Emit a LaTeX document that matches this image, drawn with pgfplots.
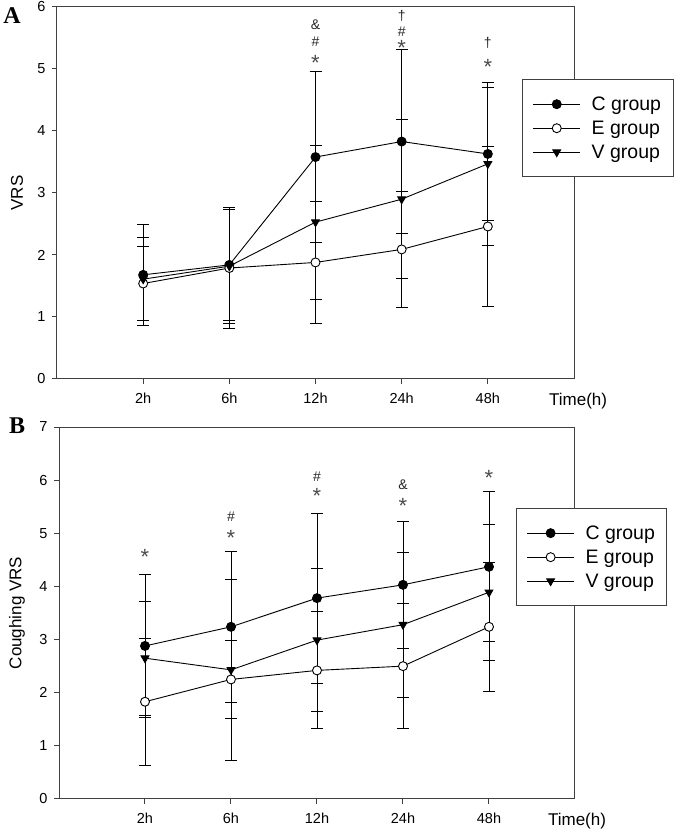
\documentclass[border=0pt]{standalone}
\usepackage{fontspec}
\setmainfont{Liberation Sans}
\newfontfamily\timesbold{Liberation Serif}
\usepackage{pgfplots}
\pgfplotsset{compat=1.18}

% big asterisk, lowered so its centre sits where the other signs sit
\newcommand\sigast{{\fontsize{22}{22}\selectfont\color{black!70}\raisebox{-7.6pt}{*}}}

\pgfplotsset{
  vrsaxis/.style={
    scale only axis, width=517pt, height=372pt,
    xmin=0, xmax=6, xtick={1,...,5}, xticklabels={2h,6h,12h,24h,48h},
    ymin=0,
    tick align=outside, major tick length=5pt,
    xtick pos=bottom, ytick pos=left,
    axis line style={black!75, line width=1pt},
    tick style={black!75, line width=1pt},
    ticklabel style={font=\fontsize{14.5}{16}\selectfont},
    yticklabel style={xshift=-3pt},
    xticklabel style={yshift=-5pt},
    /pgf/number format/assume math mode=true,
    label style={font=\fontsize{17}{19}\selectfont},
    xlabel={Time(h)},
    xlabel style={anchor=north, inner sep=0pt},
    ylabel style={anchor=center},
    clip=false,
    legend cell align=left,
    legend image code/.code={\draw[mark repeat=2, mark phase=2] plot coordinates {(0pt,0pt) (23.5pt,0pt) (47pt,0pt)};},
    legend style={anchor=north west, draw=black!75, line width=1pt, fill=white,
      font=\fontsize{19.5}{22}\selectfont, inner xsep=10pt, inner ysep=15pt,
      row sep=5pt, column sep=9pt, nodes={inner sep=2pt}},
  },
  grp/.style={black, line width=0.9pt, mark size=4.5pt,
    error bars/y dir=both, error bars/y explicit,
    error bars/error bar style={line width=0.9pt, black},
    error bars/error mark options={rotate=90, black, line width=0.9pt, mark size=6pt}},
  sig/.style={draw=none, mark=none, forget plot, nodes near coords,
    point meta=explicit symbolic,
    every node near coord/.append style={anchor=base, yshift=-5pt, inner sep=0pt,
      font=\fontsize{14}{16}\selectfont, text=black!85}},
}

\begin{document}
\begin{tikzpicture}
\useasboundingbox (0,0) rectangle (675pt,830pt);

% panel A
\begin{axis}[vrsaxis, at={(57pt,451pt)}, anchor=south west,
  ymax=6, ytick={0,...,6}, ylabel={VRS},
  xlabel style={at={(rel axis cs:1.008,-0.0376)}},
  ylabel style={at={(rel axis cs:-0.0774,0.5)}},
  legend style={at={(rel axis cs:0.9,0.806)}}]
\addplot[grp, mark=*, mark options={fill=black}] coordinates {
  (1,1.68) +- (0,0.81) (2,1.84) +- (0,0.89) (3,3.58) +- (0,1.38)
  (4,3.83) +- (0,1.49) (5,3.63) +- (0,1.07)};
\addlegendentry{C group}
\addplot[grp, mark=*, mark options={fill=white, draw=black}] coordinates {
  (1,1.54) +- (0,0.59) (2,1.79) +- (0,0.98) (3,1.88) +- (0,0.99)
  (4,2.09) +- (0,0.93) (5,2.46) +- (0,1.29)};
\addlegendentry{E group}
\addplot[grp, mark=triangle*, mark options={rotate=180, fill=black}] coordinates {
  (1,1.61) +- (0,0.67) (2,1.82) +- (0,0.92) (3,2.53) +- (0,1.24)
  (4,2.90) +- (0,1.28) (5,3.47) +- (0,1.32)};
\addlegendentry{V group}
\addplot[sig] coordinates {
  (3,5.71) [\&] (3,5.45) [\#] (3,5.18) [\sigast]
  (4,5.86) [†] (4,5.61) [\#] (4,5.42) [\sigast]
  (5,5.42) [†] (5,5.11) [\sigast]};
\node[font=\timesbold\bfseries\fontsize{24}{26}\selectfont] at (rel axis cs:-0.087,0.976) {A};
\end{axis}

% panel B
\begin{axis}[vrsaxis, at={(59pt,31pt)}, anchor=south west, width=516pt,
  ymax=7, ytick={0,...,7}, ylabel={Coughing VRS},
  xlabel style={at={(rel axis cs:1.004,-0.0368)}},
  ylabel style={at={(rel axis cs:-0.0814,0.5)}},
  legend style={at={(rel axis cs:0.886,0.782)}}]
\addplot[grp, mark=*, mark options={fill=black}] coordinates {
  (1,2.88) +- (0,1.35) (2,3.24) +- (0,1.42) (3,3.78) +- (0,1.60)
  (4,4.03) +- (0,1.20) (5,4.37) +- (0,1.41)};
\addlegendentry{C group}
\addplot[grp, mark=*, mark options={fill=white, draw=black}] coordinates {
  (1,1.83) +- (0,1.20) (2,2.25) +- (0,0.74) (3,2.42) +- (0,1.10)
  (4,2.50) +- (0,1.18) (5,3.24) +- (0,1.21)};
\addlegendentry{E group}
\addplot[grp, mark=triangle*, mark options={rotate=180, fill=black}] coordinates {
  (1,2.65) +- (0,1.07) (2,2.43) +- (0,1.70) (3,2.99) +- (0,1.35)
  (4,3.28) +- (0,1.36) (5,3.89) +- (0,1.28)};
\addlegendentry{V group}
\addplot[sig] coordinates {
  (1,4.65) [\sigast]
  (2,5.31) [\#] (2,5.01) [\sigast]
  (3,6.07) [\#] (3,5.79) [\sigast]
  (4,5.92) [\&] (4,5.61) [\sigast]
  (5,6.14) [\sigast]};
\node[font=\timesbold\bfseries\fontsize{24}{26}\selectfont] at (rel axis cs:-0.081,1.003) {B};
\end{axis}
\end{tikzpicture}
\end{document}
